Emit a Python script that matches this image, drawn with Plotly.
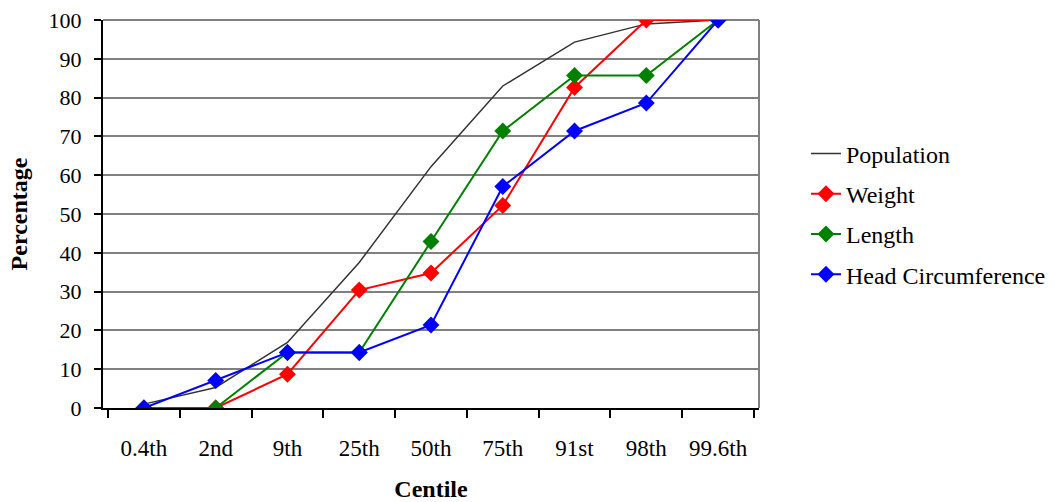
import plotly.graph_objects as go

# Centile categories along the x axis
centiles = ["0.4th", "2nd", "9th", "25th", "50th", "75th", "91st", "98th", "99.6th"]

# Cumulative percentages per series
population = [1.0, 5.3, 16.9, 37.5, 62.2, 83.0, 94.3, 99.0, 100.0]
weight = [0.0, 0.0, 8.7, 30.4, 34.8, 52.2, 82.6, 100.0, 100.0]
length = [0.0, 0.0, 14.3, 14.3, 42.9, 71.4, 85.7, 85.7, 100.0]
head_circ = [0.0, 7.1, 14.3, 14.3, 21.4, 57.1, 71.4, 78.6, 100.0]

y_ticks = list(range(0, 101, 10))

FONT = "Liberation Serif, Times New Roman, serif"

fig = go.Figure()

fig.add_trace(go.Scatter(
    x=centiles, y=population, name="Population", mode="lines",
    line=dict(color="#333333", width=1.5), legendgroup="a",
))

marker_series = [
    ("Weight", weight, "#ff0000", "b"),
    ("Length", length, "#008000", "c"),
    ("Head Circumference", head_circ, "#0000ff", "d"),
]
for name, vals, color, grp in marker_series:
    fig.add_trace(go.Scatter(
        x=centiles, y=vals, name=name, mode="lines+markers",
        line=dict(color=color, width=2),
        marker=dict(symbol="diamond", size=13, color=color),
        legendgroup=grp,
    ))

fig.update_layout(
    width=1055, height=502,
    margin=dict(l=103, r=296, t=20, b=94, autoexpand=False),
    paper_bgcolor="white", plot_bgcolor="white",
    font=dict(family=FONT, size=22, color="black"),
    showlegend=True,
    legend=dict(
        x=1.0716, xanchor="left", xref="paper",
        y=0.5, yanchor="middle",
        font=dict(family=FONT, size=24, color="black"),
        traceorder="grouped", tracegroupgap=6,
        bgcolor="rgba(0,0,0,0)", borderwidth=0,
        itemwidth=30,
    ),
    xaxis=dict(
        type="category", automargin=False,
        categoryorder="array", categoryarray=centiles,
        showgrid=False, zeroline=False,
        showline=True, linecolor="black", linewidth=2,
        ticks="outside", ticklen=8, tickcolor="black", tickwidth=1.5,
        tickson="boundaries",
        ticklabelstandoff=18,
        tickfont=dict(family=FONT, size=23),
        title=dict(text="<b>Centile</b>", font=dict(family=FONT, size=24), standoff=22),
        mirror=False,
    ),
    yaxis=dict(
        range=[0, 100], tickvals=y_ticks, automargin=False,
        showgrid=True, gridcolor="#808080", gridwidth=1.5,
        zeroline=False,
        showline=True, linecolor="black", linewidth=2,
        ticks="outside", ticklen=7, tickcolor="black", tickwidth=1.5,
        ticklabelstandoff=8,
        tickfont=dict(family=FONT, size=22),
        title=dict(text="<b>Percentage</b>", font=dict(family=FONT, size=24), standoff=14),
    ),
)

# Gray frame on the top and right sides of the plot area
fig.add_shape(type="line", xref="paper", yref="paper", x0=0, x1=1, y0=1, y1=1,
              line=dict(color="#808080", width=2), layer="below")
fig.add_shape(type="line", xref="paper", yref="paper", x0=1, x1=1, y0=0, y1=1,
              line=dict(color="#808080", width=2), layer="below")

fig.write_html("out.html")
